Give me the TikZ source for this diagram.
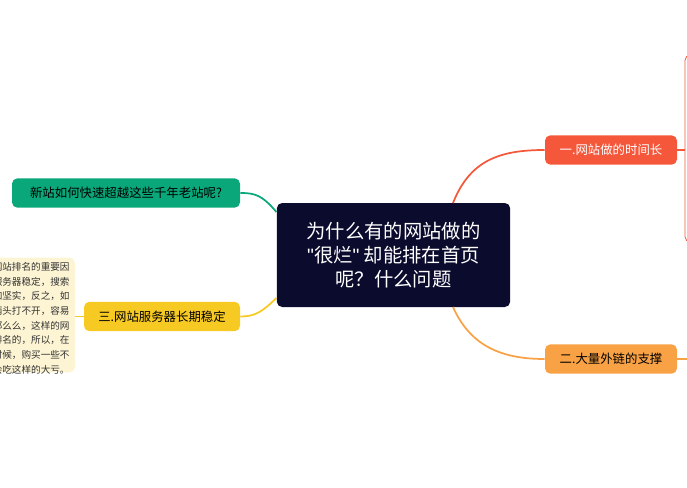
\documentclass[tikz,border=0pt]{standalone}
\usepackage{fontspec}
\setmainfont{Noto Sans CJK SC}
\newfontfamily\latinfont{Liberation Sans}
\begin{document}
\begin{tikzpicture}[x=0.75pt, y=-0.75pt,
    semithick,
    % --- Styles ---
    topicNode/.style={
      rounded corners=4pt,
      minimum height=22pt,
      inner xsep=8pt,
      font=\fontsize{9.3}{11}\selectfont,
      anchor=center
    },
    rootNode/.style={
      fill=rootBlue,
      rounded corners=4pt,
      minimum width=175pt,
      minimum height=78pt,
      text=white,
      align=center,
      font=\fontsize{14.5}{18}\selectfont
    },
    link/.style={line width=1.3pt}
]
\definecolor{rootBlue}{HTML}{0B0B2E}
\definecolor{redTopic}{HTML}{F4573A}
\definecolor{orangeTopic}{HTML}{F9A245}
\definecolor{yellowTopic}{HTML}{F6C923}
\definecolor{greenTopic}{HTML}{0AA77A}
\definecolor{noteFill}{HTML}{FDF4D3}

\clip (0,0) rectangle (687,487);
\useasboundingbox (0,0) rectangle (687,487);

%=====================
% Root
%=====================
\node[rootNode] (root) at (393.5,255) {为什么有的网站做的\\{\latinfont"}很烂{\latinfont"} 却能排在首页\\呢？什么问题};

%=====================
% Topics
%=====================
\node[topicNode, fill=redTopic, text=white, minimum width=99pt] (tOne) at (611,150) {一.网站做的时间长};
\node[topicNode, fill=orangeTopic, minimum width=99pt] (tTwo) at (611,359) {二.大量外链的支撑};
\node[topicNode, fill=yellowTopic, minimum width=117pt] (tThree) at (162,316.5) {三.网站服务器长期稳定};
\node[topicNode, fill=greenTopic, minimum width=171pt] (tNew) at (126,193) {新站如何快速超越这些千年老站呢?};

%=====================
% Detail boxes
%=====================
\draw[redTopic, rounded corners=4pt] (685,55) rectangle (720,242);
\coordinate (rightOne) at (685,150);
\coordinate (rightTwo) at (687,359);
\node[fill=noteFill, rounded corners=4pt, minimum width=150pt, minimum height=86pt] (note) at (-25,315) {};
\node[anchor=north east, align=right, inner sep=0pt, font=\fontsize{7.2}{11}\selectfont, text=black!80]
  (noteText) at (70,262) {网站服务器稳定也是影响网站排名的重要因\\素之一，网站服务器稳定，搜索\\引擎对网站的信任感会更加坚实，反之，如\\果网站三天两头打不开，容易\\被搜索引擎降权那么么，这样的网\\站是很难有好的排名的，所以，在\\选择服务器的时候，购买一些不\\靠谱的服务器会吃这样的大亏。};

%=====================
% Connectors
%=====================
\draw[link, redTopic] (453,203) .. controls (470,160) and (500,150) .. (tOne.west);
\draw[link, orangeTopic] (453,307) .. controls (470,345) and (500,359) .. (tTwo.west);
\draw[link, greenTopic] (root.west |- 0,212) .. controls (262,195) and (255,193) .. (tNew.east);
\draw[link, yellowTopic] (root.west |- 0,298) .. controls (262,312) and (255,316.5) .. (tThree.east);
\draw[link, redTopic] (tOne.east) -- (rightOne);
\draw[link, orangeTopic] (tTwo.east) -- (rightTwo);
\draw[link, yellowTopic] (note.east |- tThree) -- (tThree.west);

\end{tikzpicture}
\end{document}
